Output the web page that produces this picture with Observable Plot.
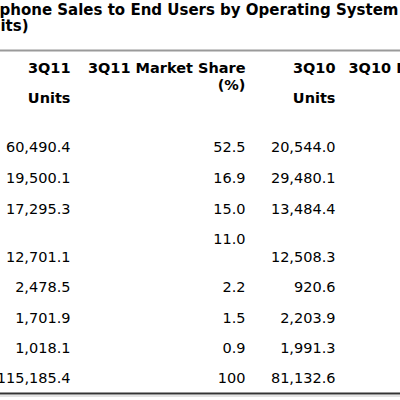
<!DOCTYPE html>
<html>
<head>
<meta charset="utf-8">
<script src="https://cdn.jsdelivr.net/npm/d3@7"></script>
<script src="https://cdn.jsdelivr.net/npm/@observablehq/plot@0.6"></script>
<style>
  html, body { margin: 0; padding: 0; background: #fff; overflow: hidden; }
  svg { display: block; }
</style>
</head>
<body>
<div id="chart"></div>
<script>
// ---- data ----
const titleLine1 = "Smartphone Sales to End Users by Operating System in 3Q11 (Thousands of";
const titleLine2 = "Units)";
const columns = ["3Q11 Units", "3Q11 Market Share (%)", "3Q10 Units"];
const headerLines = [["3Q11", "Units"], ["3Q11 Market Share", "(%)"], ["3Q10", "Units"]];
const cutHeader = "3Q10 Market Share";
const rows = ["Android", "Symbian", "iOS", "Research In Motion", "Bada", "Microsoft", "Others", "Total"];
const units3Q11 = ["60,490.4", "19,500.1", "17,295.3", "12,701.1", "2,478.5", "1,701.9", "1,018.1", "115,185.4"];
const share3Q11 = ["52.5", "16.9", "15.0", "11.0", "2.2", "1.5", "0.9", "100"];
const units3Q10 = ["20,544.0", "29,480.1", "13,484.4", "12,508.3", "920.6", "2,203.9", "1,991.3", "81,132.6"];

// ---- layout ----
const FONT = "DejaVu Sans, Verdana, sans-serif";
const colRight = [70, 245, 335];   // right edges of the columns (px)
const rowBase = [151, 182, 213, 261, 291, 322, 352, 382];
const twoLineRow = 3;
const TITLE_SIZE = 15;

const cells = [];
rows.forEach((r, i) => {
  const bold = r === "Total";
  cells.push({x: colRight[0], y: rowBase[i], t: units3Q11[i], bold});
  cells.push({x: colRight[1], y: i === twoLineRow ? rowBase[i] - 18 : rowBase[i], t: share3Q11[i], bold});
  cells.push({x: colRight[2], y: rowBase[i], t: units3Q10[i], bold});
});

const headers = [];
headerLines.forEach((lines, c) => {
  headers.push({x: colRight[c], y: 72, t: lines[0]});
  headers.push({x: colRight[c], y: c === 1 ? 89 : 102, t: lines[1]});
});

// measure "Smart" so the first title line is cut like the reference
const ctx = document.createElement("canvas").getContext("2d");
ctx.font = `bold ${TITLE_SIZE}px ${FONT}`;
const shift = ctx.measureText("Smart").width;

const plot = Plot.plot({
  width: 400,
  height: 400,
  margin: 0,
  x: {type: "identity", axis: null},
  y: {type: "identity", axis: null},
  style: {fontFamily: FONT, background: "#fff"},
  marks: [
    Plot.ruleY([50], {stroke: "#9a9a9a", strokeWidth: 2.2}),
    Plot.ruleY([393], {stroke: "#333", strokeWidth: 2}),
    Plot.ruleY([395.5], {stroke: "#c8c8c8", strokeWidth: 1}),
    Plot.text([{x: -shift - 1, y: 14, t: titleLine1}], {x: "x", y: "y", text: "t", textAnchor: "start",
      lineAnchor: "bottom", fontSize: TITLE_SIZE, fontWeight: "bold", fill: "#000"}),
    Plot.text([{x: 28, y: 30, t: titleLine2}], {x: "x", y: "y", text: "t", textAnchor: "end",
      lineAnchor: "bottom", fontSize: TITLE_SIZE, fontWeight: "bold", fill: "#000"}),
    Plot.text(headers, {x: "x", y: "y", text: "t", textAnchor: "end", lineAnchor: "bottom",
      fontSize: 14.5, fontWeight: "bold", fill: "#000"}),
    Plot.text([{x: 348, y: 72, t: cutHeader}], {x: "x", y: "y", text: "t", textAnchor: "start", lineAnchor: "bottom",
      fontSize: 14.5, fontWeight: "bold", fill: "#000"}),
    Plot.text(cells, {x: "x", y: "y", text: "t", textAnchor: "end", lineAnchor: "bottom",
      fontSize: 14.5, fontWeight: d => d.bold ? "bold" : "normal", fill: "#000"})
  ]
});
document.getElementById("chart").append(plot);
</script>
</body>
</html>
